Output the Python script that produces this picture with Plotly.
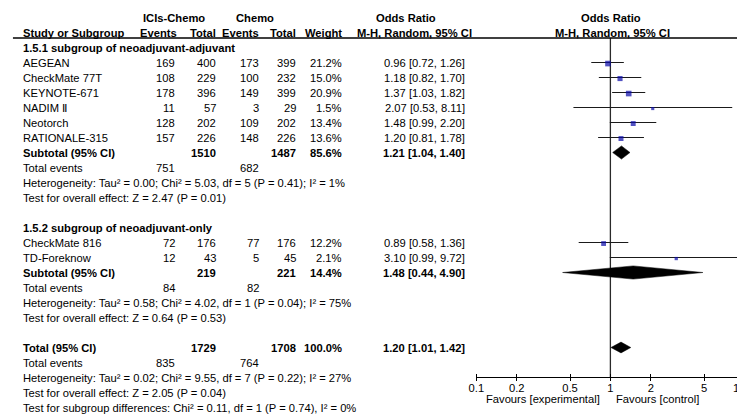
import math
import plotly.graph_objects as go

# ---- study-level data ----
studies = ["AEGEAN", "CheckMate 77T", "KEYNOTE-671", "NADIM Ⅱ", "Neotorch",
           "RATIONALE-315", "CheckMate 816", "TD-Foreknow"]
group_of = [1, 1, 1, 1, 1, 1, 2, 2]
events_ici = [169, 108, 178, 11, 128, 157, 72, 12]
total_ici = [400, 229, 396, 57, 202, 226, 176, 43]
events_chemo = [173, 100, 149, 3, 109, 148, 77, 5]
total_chemo = [399, 232, 399, 29, 202, 226, 176, 45]
weights = [21.2, 15.0, 20.9, 1.5, 13.4, 13.6, 12.2, 2.1]
odds = [0.96, 1.18, 1.37, 2.07, 1.48, 1.20, 0.89, 3.10]
ci_low = [0.72, 0.82, 1.03, 0.53, 0.99, 0.81, 0.58, 0.99]
ci_high = [1.26, 1.70, 1.82, 8.11, 2.20, 1.78, 1.36, 9.72]

# ---- pooled estimates: subgroup 1, subgroup 2, overall ----
pooled_labels = ["Subtotal (95% CI)", "Subtotal (95% CI)", "Total (95% CI)"]
pooled_n_ici = [1510, 219, 1729]
pooled_n_chemo = [1487, 221, 1708]
pooled_events_ici = [751, 84, 835]
pooled_events_chemo = [682, 82, 764]
pooled_weight = [85.6, 14.4, 100.0]
pooled_or = [1.21, 1.48, 1.20]
pooled_low = [1.04, 0.44, 1.01]
pooled_high = [1.40, 4.90, 1.42]
pooled_het = [
    "Heterogeneity: Tau² = 0.00; Chi² = 5.03, df = 5 (P = 0.41); I² = 1%",
    "Heterogeneity: Tau² = 0.58; Chi² = 4.02, df = 1 (P = 0.04); I² = 75%",
    "Heterogeneity: Tau² = 0.02; Chi² = 9.55, df = 7 (P = 0.22); I² = 27%",
]
pooled_z = [
    "Test for overall effect: Z = 2.47 (P = 0.01)",
    "Test for overall effect: Z = 0.64 (P = 0.53)",
    "Test for overall effect: Z = 2.05 (P = 0.04)",
]
subgroup_titles = ["1.5.1 subgroup of neoadjuvant-adjuvant",
                   "1.5.2 subgroup of neoadjuvant-only"]
subgroup_diff = "Test for subgroup differences: Chi² = 0.11, df = 1 (P = 0.74), I² = 0%"

tick_values = [0.1, 0.2, 0.5, 1, 2, 5, 10]
tick_labels = ["0.1", "0.2", "0.5", "1", "2", "5", "10"]

# ---- layout constants ----
W, H = 737, 417
FONT = "Liberation Sans, Arial, sans-serif"
FS = 11.2
ROW_TOP = 17.5      # pixel centre of row 0
ROW_H = 15.0        # pixel height of a row
COL_NAME, COL_E1, COL_N1, COL_E2, COL_N2, COL_W, COL_OR = 14, 170, 211, 255, 292, 339, 463
PLOT_LEFT = 473.5   # pixel of OR = 0.1
DECADE = 135.5      # pixels per decade on the OR axis
AXIS_PX = 377
AXIS_ROW = (AXIS_PX - ROW_TOP) / ROW_H
RULE_ROW = (38 - ROW_TOP) / ROW_H

annotations = []


def txt(x, row, s, anchor="left", bold=False):
    annotations.append(dict(
        xref="paper", yref="y", x=x / W, y=row,
        text=f"<b>{s}</b>" if bold else s,
        xanchor=anchor, yanchor="middle", showarrow=False, borderpad=0,
        font=dict(family=FONT, size=FS, color="black")))


# headers
txt(168, 0, "ICIs-Chemo", "center", True)
txt(250, 0, "Chemo", "center", True)
txt(402, 0, "Odds Ratio", "center", True)
txt(610, 0, "Odds Ratio", "center", True)
txt(COL_NAME, 1, "Study or Subgroup", "left", True)
txt(172, 1, "Events", "right", True)
txt(COL_N1, 1, "Total", "right", True)
txt(COL_E2, 1, "Events", "right", True)
txt(COL_N2, 1, "Total", "right", True)
txt(COL_W, 1, "Weight", "right", True)
txt(411, 1, "M-H, Random, 95% CI", "center", True)
txt(611, 1, "M-H, Random, 95% CI", "center", True)

traces = []
study_rows = []
pooled_rows = []
row = 2
for g in (1, 2):
    txt(COL_NAME, row, subgroup_titles[g - 1], "left", True)
    row += 1
    for i, name in enumerate(studies):
        if group_of[i] != g:
            continue
        txt(COL_NAME, row, name)
        txt(COL_E1, row, str(events_ici[i]), "right")
        txt(COL_N1, row, str(total_ici[i]), "right")
        txt(COL_E2, row, str(events_chemo[i]), "right")
        txt(COL_N2, row, str(total_chemo[i]), "right")
        txt(COL_W, row, f"{weights[i]:.1f}%", "right")
        txt(COL_OR, row, f"{odds[i]:.2f} [{ci_low[i]:.2f}, {ci_high[i]:.2f}]", "right")
        study_rows.append((i, row))
        row += 1
    pooled_rows.append(row)
    row += 5
pooled_rows.append(row)

for p, r in enumerate(pooled_rows):
    txt(COL_NAME, r, pooled_labels[p], "left", True)
    txt(COL_N1, r, str(pooled_n_ici[p]), "right", True)
    txt(COL_N2, r, str(pooled_n_chemo[p]), "right", True)
    txt(COL_W, r, f"{pooled_weight[p]:.1f}%", "right", True)
    txt(COL_OR, r, f"{pooled_or[p]:.2f} [{pooled_low[p]:.2f}, {pooled_high[p]:.2f}]", "right", True)
    txt(COL_NAME, r + 1, "Total events")
    txt(COL_E1, r + 1, str(pooled_events_ici[p]), "right")
    txt(COL_E2, r + 1, str(pooled_events_chemo[p]), "right")
    txt(COL_NAME, r + 2, pooled_het[p])
    txt(COL_NAME, r + 3, pooled_z[p])
txt(COL_NAME, pooled_rows[-1] + 4, subgroup_diff)

# line of no effect
traces.append(go.Scatter(x=[1, 1], y=[RULE_ROW, AXIS_ROW], mode="lines",
                         line=dict(color="#2a2a2a", width=1.3), hoverinfo="skip"))

# study confidence intervals and weighted squares
for i, r in study_rows:
    traces.append(go.Scatter(x=[ci_low[i], ci_high[i]], y=[r, r], mode="lines",
                             line=dict(color="#1a1a1a", width=1.1), hoverinfo="skip"))
traces.append(go.Scatter(
    x=[odds[i] for i, _ in study_rows],
    y=[r + 0.07 for _, r in study_rows],
    mode="markers",
    marker=dict(symbol="square", color="#0808a8",
                size=[2.2 + 0.75 * math.sqrt(weights[i]) for i, _ in study_rows],
                line=dict(width=0)),
    hoverinfo="skip"))

# pooled diamonds
half_heights = [0.44, 0.44, 0.36]
for p, r in enumerate(pooled_rows):
    hh = half_heights[p]
    traces.append(go.Scatter(
        x=[pooled_low[p], pooled_or[p], pooled_high[p], pooled_or[p], pooled_low[p]],
        y=[r, r - hh, r, r + hh, r],
        mode="lines", fill="toself", fillcolor="black",
        line=dict(color="black", width=0.5), hoverinfo="skip"))

fig = go.Figure(traces)

# axis captions below the OR scale
fav_row = (398.5 - ROW_TOP) / ROW_H
txt(600, fav_row, "Favours [experimental]", "right")
txt(614, fav_row, "Favours [control]", "left")
# the last tick label sits at the page edge, beyond the axis range
ten_px = PLOT_LEFT + DECADE * math.log10(tick_values[-1] / tick_values[0]) - 5
txt(ten_px, (387.5 - ROW_TOP) / ROW_H, tick_labels[-1], "center")

x_end = math.log10(tick_values[0]) + (W - PLOT_LEFT) / DECADE

fig.update_layout(
    width=W, height=H,
    margin=dict(l=0, r=0, t=0, b=0),
    paper_bgcolor="white", plot_bgcolor="white",
    showlegend=False,
    font=dict(family=FONT, size=FS, color="black"),
    annotations=annotations,
    shapes=[dict(type="line", xref="paper", yref="y", x0=5 / W, x1=1,
                 y0=RULE_ROW, y1=RULE_ROW, line=dict(color="black", width=1.3))],
    xaxis=dict(
        type="log", domain=[PLOT_LEFT / W, 1],
        range=[math.log10(tick_values[0]), x_end],
        anchor="free", position=1 - AXIS_PX / H,
        showline=True, linecolor="black", linewidth=1,
        showgrid=False, zeroline=False,
        ticks="outside", ticklen=3, tickcolor="black", tickwidth=1,
        ticklabelstandoff=-2,
        tickmode="array", tickvals=tick_values[:-1], ticktext=tick_labels[:-1],
        tickfont=dict(family=FONT, size=FS, color="black"),
        minor=dict(ticks="inside", ticklen=3, tickcolor="black", tickwidth=1,
                   tickmode="array", tickvals=tick_values[:-1], showgrid=False),
        fixedrange=True,
    ),
    yaxis=dict(
        domain=[0, 1],
        range=[(H - ROW_TOP) / ROW_H, -ROW_TOP / ROW_H],
        visible=False, fixedrange=True,
    ),
)

fig.write_html("out.html", config={"displayModeBar": False})
